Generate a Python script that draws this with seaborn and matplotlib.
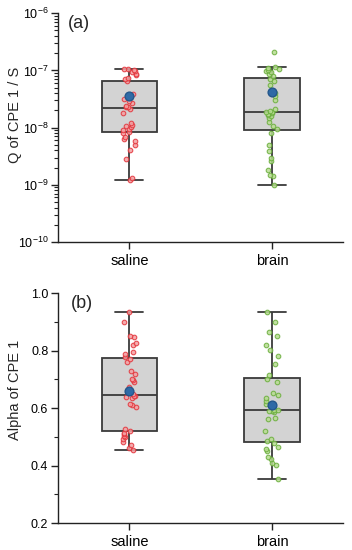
import numpy as np
import pandas as pd
import matplotlib
matplotlib.use("Agg")
import matplotlib.pyplot as plt
import seaborn as sns
from matplotlib.ticker import MultipleLocator, LogLocator, NullFormatter

# ---------------- data ----------------
groups = ["saline", "brain"]

q_saline = [1.2e-9, 1.3e-9, 2.8e-9, 4.0e-9, 5.0e-9, 5.8e-9, 6.2e-9, 6.8e-9, 7.9e-9, 8.4e-9,
            8.9e-9, 9.5e-9, 1.02e-8, 1.07e-8, 1.12e-8, 1.18e-8, 1.8e-8, 2.15e-8, 2.25e-8, 2.3e-8,
            2.4e-8, 2.7e-8, 2.9e-8, 3.1e-8, 3.4e-8, 3.8e-8, 6.4e-8, 7.2e-8, 7.5e-8, 8.2e-8,
            8.8e-8, 9.3e-8, 9.8e-8, 1.03e-7, 1.05e-7, 1.07e-7]
q_brain = [1.0e-9, 1.4e-9, 1.5e-9, 1.8e-9, 2.6e-9, 2.9e-9, 3.9e-9, 5.0e-9, 8.2e-9, 9.4e-9,
           1.05e-8, 1.24e-8, 1.5e-8, 1.6e-8, 1.68e-8, 1.75e-8, 1.82e-8, 1.85e-8, 1.9e-8, 1.97e-8,
           2.1e-8, 3.0e-8, 3.5e-8, 4.0e-8, 5.5e-8, 6.4e-8, 7.2e-8, 8.0e-8, 8.6e-8, 9.2e-8,
           9.7e-8, 1.01e-7, 1.05e-7, 1.09e-7, 1.13e-7, 2.1e-7]

alpha_saline = [0.453, 0.462, 0.473, 0.483, 0.494, 0.500, 0.503, 0.510, 0.515, 0.520,
                0.527, 0.603, 0.610, 0.616, 0.636, 0.640, 0.642, 0.643, 0.648, 0.674,
                0.690, 0.698, 0.703, 0.720, 0.730, 0.759, 0.772, 0.779, 0.787, 0.794,
                0.820, 0.826, 0.848, 0.852, 0.898, 0.934]
alpha_brain = [0.352, 0.403, 0.410, 0.424, 0.430, 0.450, 0.457, 0.465, 0.479, 0.485,
               0.492, 0.520, 0.562, 0.566, 0.587, 0.590, 0.591, 0.593, 0.595, 0.608,
               0.616, 0.624, 0.634, 0.645, 0.651, 0.690, 0.700, 0.715, 0.752, 0.783,
               0.802, 0.820, 0.852, 0.864, 0.901, 0.933]

point_fill = {"saline": "#f4a0a2", "brain": "#b8dc92"}
point_edge = {"saline": "#e3343b", "brain": "#6aae3c"}

# ---------------- style ----------------
sns.set_theme(style="ticks")
plt.rcParams["font.family"] = ["Liberation Sans", "DejaVu Sans"]
plt.rcParams["axes.linewidth"] = 1.0
plt.rcParams["axes.edgecolor"] = "#222222"

np.random.seed(3)

fig = plt.figure(figsize=(3.52, 5.5), dpi=100)
ax1 = fig.add_axes([0.165, 0.56, 0.81, 0.416])
ax2 = fig.add_axes([0.165, 0.049, 0.81, 0.418])


def draw(ax, s_vals, b_vals):
    df = pd.DataFrame({
        "group": ["saline"] * len(s_vals) + ["brain"] * len(b_vals),
        "value": list(s_vals) + list(b_vals),
    })
    sns.boxplot(data=df, x="group", y="value", order=groups, width=0.39,
                color="#d3d3d3", linecolor="#3a3a3a", linewidth=1.3, saturation=1,
                showfliers=False, showmeans=True,
                meanprops=dict(marker="o", markerfacecolor="#2f6aa6",
                               markeredgecolor="#24578c", markersize=6.3, zorder=10),
                ax=ax)
    for g in groups:
        sns.stripplot(data=df[df["group"] == g], x="group", y="value", order=groups,
                      color=point_fill[g], edgecolor=point_edge[g], linewidth=0.8,
                      size=3.3, jitter=0.05, alpha=0.85, ax=ax, zorder=3)
    ax.set_xlim(-0.5, 1.5)
    ax.set_xlabel("")
    sns.despine(ax=ax)
    ax.tick_params(axis="both", which="major", direction="out", length=5, width=1,
                   colors="#222222", labelcolor="black")
    ax.tick_params(axis="x", which="major", labelsize=10.5)
    ax.tick_params(axis="y", which="major", labelsize=9, pad=2)
    ax.tick_params(axis="y", which="minor", direction="out", length=3, width=0.8,
                   colors="#222222")


draw(ax1, q_saline, q_brain)
ax1.set_yscale("log")
ax1.set_ylim(1e-10, 1e-6)
ax1.yaxis.set_major_locator(LogLocator(base=10, numticks=10))
ax1.yaxis.set_minor_locator(LogLocator(base=10, subs=np.arange(2, 10), numticks=20))
ax1.yaxis.set_minor_formatter(NullFormatter())
ax1.tick_params(axis="y", which="minor", direction="out", length=3, width=0.8)
ax1.set_ylabel("Q of CPE 1 / S", fontsize=10.5)
ax1.yaxis.set_label_coords(-0.125, 0.555)
ax1.text(0.035, 0.99, "(a)", transform=ax1.transAxes, fontsize=13, va="top", ha="left")

draw(ax2, alpha_saline, alpha_brain)
ax2.set_ylim(0.2, 1.0)
ax2.yaxis.set_major_locator(MultipleLocator(0.2))
ax2.yaxis.set_minor_locator(MultipleLocator(0.1))
ax2.yaxis.set_major_formatter(matplotlib.ticker.FormatStrFormatter("%.1f"))
ax2.set_ylabel("Alpha of CPE 1", fontsize=10.5)
ax2.yaxis.set_label_coords(-0.125, 0.578)
ax2.text(0.045, 0.99, "(b)", transform=ax2.transAxes, fontsize=13, va="top", ha="left")

fig.savefig("out.png", dpi=100, facecolor="white")
